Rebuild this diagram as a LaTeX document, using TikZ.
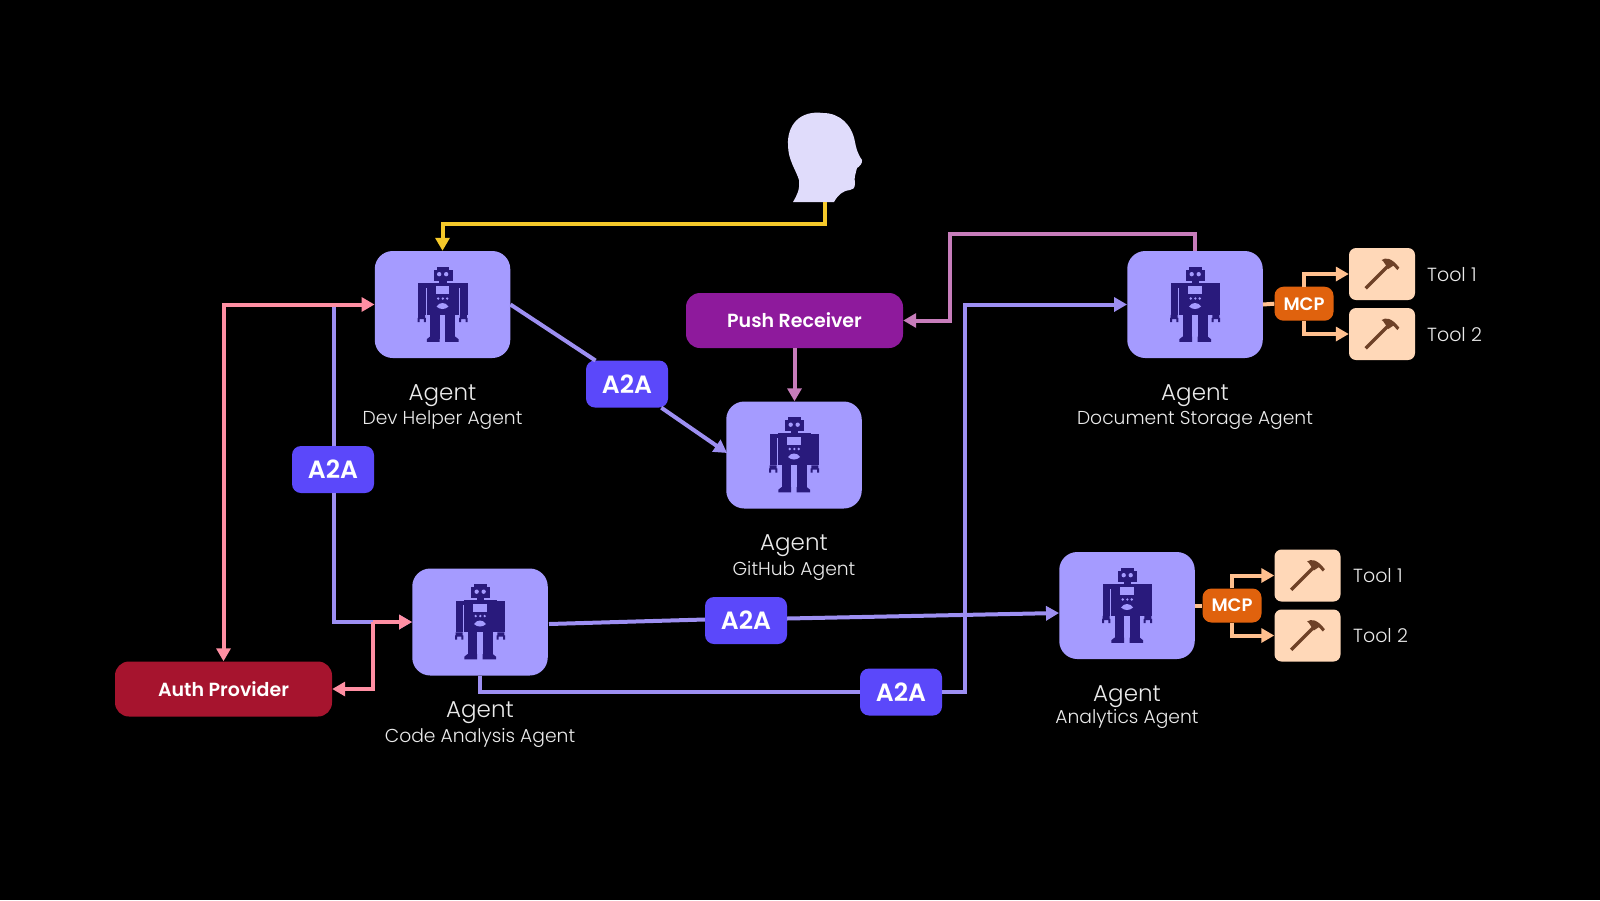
\documentclass[tikz,border=0pt]{standalone}
\usepackage{fontspec}
\setmainfont{Poppins}[UprightFont=* Light, BoldFont=* SemiBold]
\usetikzlibrary{arrows.meta}
\definecolor{agentc}{HTML}{A59BFF}
\definecolor{robotc}{HTML}{291A7C}
\definecolor{linec}{HTML}{9D8FF2}
\definecolor{badgec}{HTML}{5B48FA}
\definecolor{pinkc}{HTML}{FF8FA3}
\definecolor{mauvec}{HTML}{C77DBB}
\definecolor{authc}{HTML}{A6142E}
\definecolor{pushc}{HTML}{8E1A9C}
\definecolor{mcpc}{HTML}{E0620D}
\definecolor{toolc}{HTML}{FFD8B8}
\definecolor{orlinec}{HTML}{FFC08F}
\definecolor{yelc}{HTML}{F5C92A}
\definecolor{headc}{HTML}{E0DCFB}
\definecolor{hamc}{HTML}{6E4127}
\tikzset{
  agentbox/.style={fill=agentc,rounded corners=18pt,minimum width=135.5pt,minimum height=107pt,inner sep=0pt},
  badge/.style={fill=badgec,rounded corners=9pt,minimum width=82pt,minimum height=47pt,inner sep=0pt,text=white,font=\bfseries\fontsize{25}{25}\selectfont},
  pill/.style={rounded corners=14pt,minimum height=55pt,inner sep=0pt,text=white,font=\bfseries\fontsize{19}{19}\selectfont},
  mcpbox/.style={fill=mcpc,rounded corners=9pt,minimum width=59pt,minimum height=34pt,inner sep=0pt,text=white,font=\bfseries\fontsize{18}{18}\selectfont},
  toolbox/.style={fill=toolc,rounded corners=7pt,minimum width=66pt,minimum height=52pt,inner sep=0pt},
  title/.style={text=white!92!black,font=\fontsize{23}{23}\selectfont,inner sep=0pt},
  sub/.style={text=white!92!black,font=\fontsize{18.7}{19}\selectfont,inner sep=0pt},
  toollabel/.style={text=white!92!black,font=\fontsize{19}{19}\selectfont,inner sep=0pt,anchor=west},
  conn/.style={line width=4pt,-{Triangle[length=13pt,width=14pt]}},
  plain/.style={line width=4pt},
  robot/.pic={
    \begin{scope}[scale=1/3]
      \fill[robotc] (-18,-113) rectangle (20,-100);
      \fill[robotc] (-27,-104) rectangle (30,-71);
      \fill[robotc] (-10,-72) rectangle (12,-64);
      \fill[robotc] (-48,-66) rectangle (50,31);
      \fill[robotc] (-73,-64) rectangle (75,-50);
      \fill[robotc] (-73,-64) rectangle (-50,31);
      \fill[robotc] (52,-64) rectangle (75,31);
      \fill[robotc] (-37,31) rectangle (-9,104);
      \fill[robotc] (8,31) rectangle (38,104);
      \fill[robotc] (-47,112) -- (-47,104) -- (-37,96) -- (-9,96) -- (-9,112) -- cycle;
      \fill[robotc] (8,96) -- (38,96) -- (48,104) -- (48,112) -- (8,112) -- cycle;
      \fill[robotc] (-73,31) rectangle (-52,44) (-75,40) rectangle (-69,53) (-56,40) rectangle (-50,53);
      \fill[robotc] (52,31) rectangle (73,44) (50,40) rectangle (56,53) (69,40) rectangle (75,53);
      \fill[agentc] (-20,-55) rectangle (20,-31);
      \fill[agentc] (-10,-91) circle (6.5) (11,-91) circle (6.5);
      \fill[agentc] (-13,-18) circle (4) (1,-18) circle (4) (14,-18) circle (4);
      \fill[agentc] (-18,6) .. controls (-10,-8) and (10,-8) .. (18,6) .. controls (8,16) and (-8,16) .. (-18,6) -- cycle;
    \end{scope}
  },
  hammer/.pic={
    \begin{scope}[scale=1/3]
      \draw[hamc,line width=3.4pt] (-49,43) -- (19,-25);
      \fill[hamc] (-1,-42) .. controls (10,-50) and (28,-50) .. (52,-19) -- (46,-12) -- (34,-25) -- (19,-15) -- (9,-30) .. controls (6,-36) and (3,-39) .. (-1,-42) -- cycle;
    \end{scope}
  }
}
\begin{document}
\begin{tikzpicture}[x=1pt,y=-1pt]
\fill[black] (0,0) rectangle (1600,900);
\useasboundingbox (0,0) rectangle (1600,900);
% person
\fill[headc] (793,202) -- (834,202) .. controls (838,195) and (842,191) .. (850,190) .. controls (853,190) and (855,188) .. (855,183) .. controls (856,180) and (853,178) .. (855,176) .. controls (857,173) and (855,170) .. (857,168) .. controls (859,167) and (863,163) .. (862,160) .. controls (857,153) and (856,147) .. (855,142) .. controls (852,125) and (840,113) .. (823,113) .. controls (800,110) and (787,125) .. (788,145) .. controls (788,160) and (796,170) .. (799,180) .. controls (800,190) and (797,195) .. (793,202) -- cycle;
\coordinate (person) at (825,202);
% agents
\node[agentbox] (dev) at (442.5,304.5) {};
\node[agentbox] (github) at (794,455) {};
\node[agentbox] (doc) at (1195,304.5) {};
\node[agentbox] (code) at (480,622) {};
\node[agentbox] (ana) at (1127,605.5) {};
\pic at (dev) {robot};
\pic at (github) {robot};
\pic at (doc) {robot};
\pic at (code) {robot};
\pic at (ana) {robot};
% labels
\node[title] at (442.5,395.5) {Agent};
\node[sub] at (442.5,420.5) {Dev Helper Agent};
\node[title] at (794,545.5) {Agent};
\node[sub] at (794,571) {GitHub Agent};
\node[title] at (1195,395.5) {Agent};
\node[sub] at (1195,420.5) {Document Storage Agent};
\node[title] at (480,712.5) {Agent};
\node[sub] at (480,738) {Code Analysis Agent};
\node[title] at (1127,697) {Agent};
\node[sub] at (1127,719) {Analytics Agent};
% pills and badges
\node[pill,fill=authc,minimum width=217pt] (auth) at (223.5,689) {Auth Provider};
\node[pill,fill=pushc,minimum width=217pt] (push) at (794.5,320.5) {Push Receiver};
\node[badge] (b1) at (627,384) {A2A};
\node[badge] (b2) at (333,469.5) {A2A};
\node[badge] (b3) at (746,620.5) {A2A};
\node[badge] (b4) at (901,692) {A2A};
\coordinate (b1in) at (595.5,360.5);
% mcp and tools
\node[mcpbox] (m1) at (1304,303.7) {MCP};
\node[toolbox] (t1) at (1382,274) {};
\node[toolbox] (t2) at (1382,334) {};
\node[mcpbox] (m2) at (1232,605.5) {MCP};
\node[toolbox] (t3) at (1307.5,575.5) {};
\node[toolbox] (t4) at (1307.5,635.5) {};
\pic at (t1) {hammer};
\pic at (t2) {hammer};
\pic at (t3) {hammer};
\pic at (t4) {hammer};
\node[toollabel] at (1427,275) {Tool 1};
\node[toollabel] at (1427,335) {Tool 2};
\node[toollabel] at (1353,575.5) {Tool 1};
\node[toollabel] at (1353,635.5) {Tool 2};
% connectors
\draw[conn,yelc] (person) -- (825,223.5) -- (dev.north |- 0,223.5) -- (dev.north);
\draw[plain,linec] (334,304) -- (b2.north -| 334,0);
\draw[conn,linec] (b2.south -| 334,0) -- (334,622) -- (code.west);
\draw[plain,linec] (dev.east) -- (b1in);
\draw[conn,linec] (b1) -- ([xshift=1pt,yshift=2pt]github.west);
\draw[plain,linec] (549,624) -- ([yshift=1pt]b3.west);
\draw[conn,linec] ([yshift=2pt]b3.east) -- ([yshift=-7.5pt]ana.west);
\draw[plain,linec] (code.south) -- (480,692) -- (b4.west);
\draw[conn,linec] (b4.east) -- (965,692) -- (965,304.5) -- (doc.west);
\draw[conn,mauvec] (doc.north) -- (1195,233.7) -- (950,233.7) -- (950,320.5) -- (push.east);
\draw[conn,mauvec] (push.south) -- (github.north -| push.south);
\draw[conn,pinkc,{Triangle[length=13pt,width=14pt]}-{Triangle[length=13pt,width=14pt]}] (auth.north) -- (auth.north |- dev.west) -- (dev.west);
\draw[conn,pinkc] (373,622) -- (code.west);
\draw[conn,pinkc] (373,622) -- (373,689) -- (auth.east);
\draw[plain,orlinec] (doc.east) -- (m1.west);
\draw[plain,orlinec] (ana.east) -- (m2.west);
\draw[conn,orlinec] (m1.north) -- (m1.north |- t1.west) -- (t1.west);
\draw[conn,orlinec] (m1.south) -- (m1.south |- t2.west) -- (t2.west);
\draw[conn,orlinec] (m2.north) -- (m2.north |- t3.west) -- (t3.west);
\draw[conn,orlinec] (m2.south) -- (m2.south |- t4.west) -- (t4.west);
\end{tikzpicture}
\end{document}
